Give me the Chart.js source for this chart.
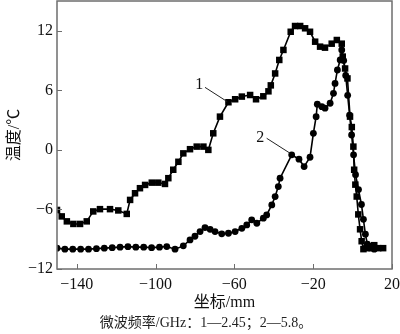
<!DOCTYPE html>
<html>
<head>
<meta charset="utf-8">
<script src="https://cdn.jsdelivr.net/npm/chart.js@4.4.0/dist/chart.umd.min.js"></script>
<style>
  html, body { margin: 0; padding: 0; background: #fff; }
  canvas { display: block; }
</style>
</head>
<body>
<canvas id="chart" width="400" height="334"></canvas>
<script>
// curve 1 (2.45 GHz), squares
const pos1 = [-150, -147.6, -145, -141.7, -138.3, -134.9, -131.6, -128.2, -123.1, -118.9, -114.6, -112.9,
  -110.4, -107.9, -105.3, -101.9, -98.6, -95.2, -93.5, -91, -88.4, -85.9, -82.5, -79.1, -75.7, -73.2,
  -70.7, -67.3, -63, -59.6, -56.2, -52, -49, -45.3, -42.7, -41.5, -39.3, -37.2, -35.1, -31.4, -29.2,
  -26.6, -24.1, -21.6, -19, -16.5, -14, -10.6, -8, -5.5, -5, -3.8, -2.6, -1.3, -0.4, 0.4, 0.8, 1.4,
  2.1, 2.9, 3.8, 4.6, 5.5, 7, 9, 11, 13, 15.5];
const temp1 = [-6.05, -6.7, -7.2, -7.46, -7.46, -7.2, -6.2, -5.97, -5.97, -6.1, -6.45, -5.04,
  -4.37, -3.86, -3.53, -3.3, -3.3, -3.43, -2.85, -2.0, -1.2, -0.35, 0.07, 0.33, 0.33, 0.0,
  1.67, 3.35, 4.8, 5.1, 5.37, 5.53, 5.1, 5.4, 5.9, 6.5, 7.7, 9.06, 10.07, 11.9, 12.48,
  12.48, 12.25, 11.9, 10.9, 10.4, 10.3, 10.7, 11.07, 10.7, 9.4, 8.2, 7.2, 3.35, 2.3, 0.33, -2, -3.5,
  -4.7, -6.5, -8, -9.2, -10, -9.9, -9.7, -9.6, -9.9, -9.9];

// curve 2 (5.8 GHz), circles
const pos2 = [-150, -146, -142, -138, -134, -130, -126, -122, -118, -114, -110, -106, -102, -98,
  -94.3, -90.1, -85.9, -82.5, -80, -77.4, -74.9, -72.3, -69.8, -66.4, -63, -59.6, -56.2, -53.7,
  -51.2, -48.6, -45.3, -43.6, -41, -39.3, -37.7, -36.8, -30.9, -27.2, -24.6, -21.6, -19.9, -18.5,
  -17.9, -15.6, -14, -11.4, -9.7, -8.9, -7.7, -6.3, -5.5, -4.5, -3.5, -2.5, -1.5, -0.5, 0.5, 1.5,
  3, 4.5, 5.5, 6.5, 7.5, 9, 11];
const temp2 = [-9.9, -10, -10, -10, -10, -9.95, -9.9, -9.85, -9.8, -9.75, -9.8, -9.8, -9.85, -9.8,
  -9.74, -10.0, -9.67, -9.07, -8.7, -8.23, -7.83, -8.0, -8.23, -8.46, -8.4, -8.23, -7.9, -7.56,
  -7.05, -7.39, -6.88, -6.55, -5.54, -4.7, -3.7, -2.85, -0.5, -0.94, -1.68, -0.74, 1.67, 3.35,
  4.6, 4.35, 4.2, 4.7, 5.7, 6.7, 8.05, 9.06, 10.07, 9, 7.5, 5.5, 3.5, 1.5, -0.5, -2.5,
  -4, -5.5, -7, -8.5, -9.5, -9.9, -10];

const xTicks = [-140, -100, -60, -20, 20];
const yTicks = [-12, -6, 0, 6, 12];

const serif = '"Liberation Serif", "Noto Sans CJK SC", serif';

function toPoints(xs, ys) {
  return xs.map((x, i) => ({ x: x, y: ys[i] }));
}

function fmt(v) {
  return String(v).replace('-', '\u2212');
}

// frame, inward ticks, curve labels and caption
const extras = {
  id: 'extras',
  afterDraw(chart) {
    const ctx = chart.ctx;
    const a = chart.chartArea;
    const xs = chart.scales.x, ys = chart.scales.y;
    ctx.save();
    ctx.strokeStyle = '#6e6e6e';
    ctx.lineWidth = 1.5;
    ctx.strokeRect(a.left, a.top, a.right - a.left, a.bottom - a.top);
    ctx.lineWidth = 1;
    ctx.beginPath();
    xTicks.forEach(v => {
      const px = Math.round(xs.getPixelForValue(v)) + 0.5;
      ctx.moveTo(px, a.bottom);
      ctx.lineTo(px, a.bottom - 5);
    });
    yTicks.forEach(v => {
      const py = Math.round(ys.getPixelForValue(v)) + 0.5;
      ctx.moveTo(a.left, py);
      ctx.lineTo(a.left + 5, py);
    });
    ctx.stroke();

    // curve labels with leader lines
    ctx.strokeStyle = '#222';
    ctx.lineWidth = 1;
    ctx.beginPath();
    ctx.moveTo(xs.getPixelForValue(-74.9), ys.getPixelForValue(6.3));
    ctx.lineTo(xs.getPixelForValue(-63.6), ys.getPixelForValue(4.86));
    ctx.moveTo(xs.getPixelForValue(-43.6), ys.getPixelForValue(1.17));
    ctx.lineTo(xs.getPixelForValue(-31.7), ys.getPixelForValue(-0.34));
    ctx.stroke();
    ctx.fillStyle = '#111';
    ctx.font = '16px ' + serif;
    ctx.textAlign = 'center';
    ctx.textBaseline = 'middle';
    ctx.fillText('1', xs.getPixelForValue(-77.8), ys.getPixelForValue(6.54));
    ctx.fillText('2', xs.getPixelForValue(-46.9), ys.getPixelForValue(1.23));

    // caption
    ctx.font = '14px ' + serif;
    ctx.fillStyle = '#222';
    ctx.fillText('微波频率/GHz：1—2.45；2—5.8。', 206, 323);
    ctx.restore();
  }
};

const ctx = document.getElementById('chart').getContext('2d');
new Chart(ctx, {
  type: 'scatter',
  data: {
    datasets: [
      {
        label: '1',
        data: toPoints(pos1, temp1),
        showLine: true,
        borderColor: '#000',
        backgroundColor: '#000',
        borderWidth: 1.6,
        pointStyle: 'rect',
        pointRadius: 4.6,
        pointBorderWidth: 0
      },
      {
        label: '2',
        data: toPoints(pos2, temp2),
        showLine: true,
        borderColor: '#000',
        backgroundColor: '#000',
        borderWidth: 1.6,
        pointStyle: 'circle',
        pointRadius: 3.4,
        pointBorderWidth: 0
      }
    ]
  },
  options: {
    responsive: false,
    animation: false,
    devicePixelRatio: 1,
    layout: { autoPadding: false, padding: { left: 0, right: 8, top: 1, bottom: 0 } },
    plugins: {
      legend: { display: false },
      tooltip: { enabled: false }
    },
    scales: {
      x: {
        type: 'linear',
        min: -150,
        max: 20,
        afterBuildTicks(scale) { scale.ticks = xTicks.map(v => ({ value: v })); },
        afterFit(scale) {
          scale.height = 65;
          scale.paddingLeft = 0;
          scale.paddingRight = 0;
        },
        grid: { display: false, drawTicks: false },
        border: { display: false },
        ticks: {
          padding: 6,
          color: '#111',
          font: { family: serif, size: 16 },
          callback: v => fmt(v)
        },
        title: {
          display: true,
          text: '坐标/mm',
          color: '#111',
          font: { family: serif, size: 16 },
          padding: { top: 0, bottom: 22 }
        }
      },
      y: {
        type: 'linear',
        min: -12,
        max: 15,
        afterBuildTicks(scale) { scale.ticks = yTicks.map(v => ({ value: v })); },
        afterFit(scale) {
          scale.width = 57;
          scale.paddingTop = 0;
          scale.paddingBottom = 0;
        },
        grid: { display: false, drawTicks: false },
        border: { display: false },
        ticks: {
          padding: 4,
          color: '#111',
          font: { family: serif, size: 16 },
          callback: v => fmt(v)
        },
        title: {
          display: true,
          text: '温度/℃',
          color: '#111',
          font: { family: serif, size: 16 },
          padding: { top: 5, bottom: 0 }
        }
      }
    }
  },
  plugins: [extras]
});
</script>
</body>
</html>
